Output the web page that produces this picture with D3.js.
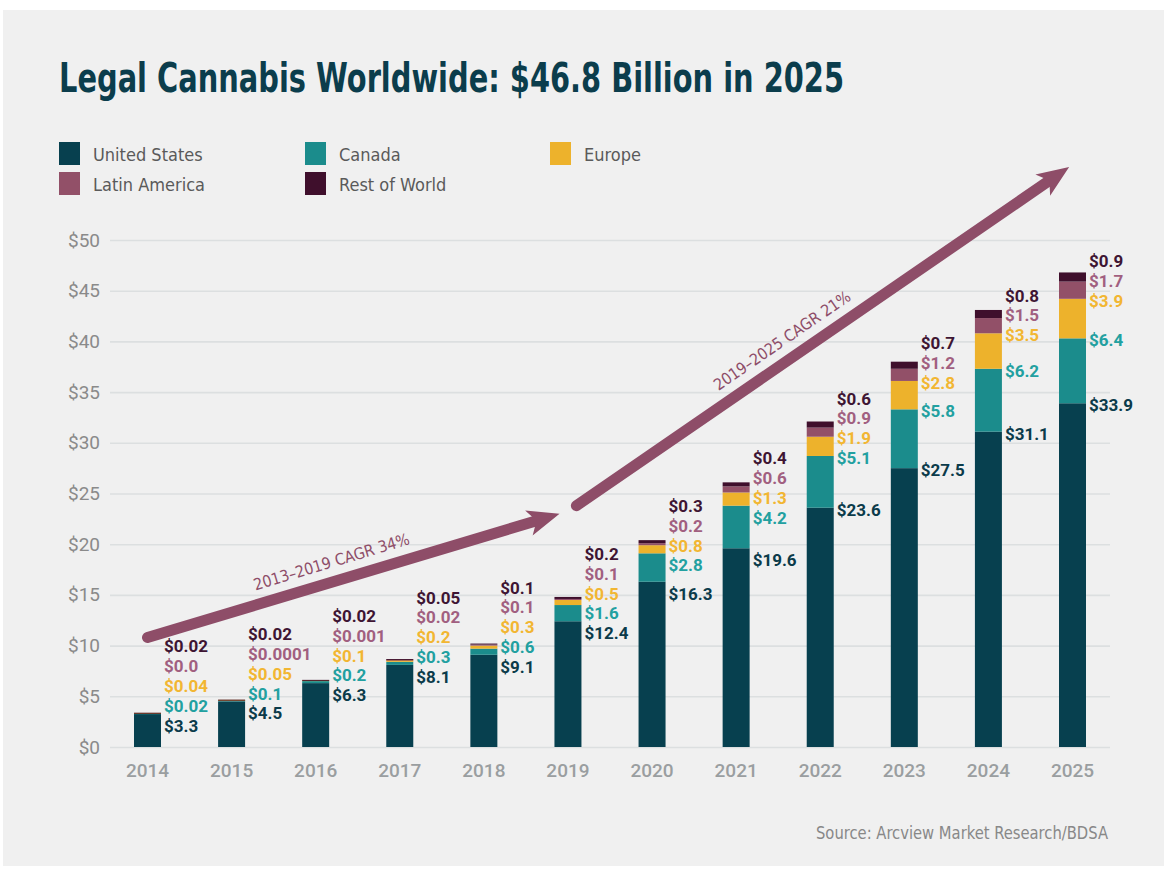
<!DOCTYPE html>
<html>
<head>
    <meta charset="utf-8">
    <title>Legal Cannabis Worldwide</title>
    <script src="https://cdn.jsdelivr.net/npm/d3@7"></script>
    <style>
        body { margin: 0; background: #fff; }
        svg { display: block; }
    </style>
</head>
<body>
    <svg width="1164" height="869" id="mainsvg"></svg>
    <script>
        // data
        const years = ['2014', '2015', '2016', '2017', '2018', '2019', '2020', '2021', '2022', '2023', '2024', '2025'];
        const unitedStates = [3.3, 4.5, 6.3, 8.1, 9.1, 12.4, 16.3, 19.6, 23.6, 27.5, 31.1, 33.9];
        const canada = [0.02, 0.1, 0.2, 0.3, 0.6, 1.6, 2.8, 4.2, 5.1, 5.8, 6.2, 6.4];
        const europe = [0.04, 0.05, 0.1, 0.2, 0.3, 0.5, 0.8, 1.3, 1.9, 2.8, 3.5, 3.9];
        const latinAmerica = [0.0, 0.0001, 0.001, 0.02, 0.1, 0.1, 0.2, 0.6, 0.9, 1.2, 1.5, 1.7];
        const restOfWorld = [0.02, 0.02, 0.02, 0.05, 0.1, 0.2, 0.3, 0.4, 0.6, 0.7, 0.8, 0.9];
        const yTicks = [0, 5, 10, 15, 20, 25, 30, 35, 40, 45, 50];
        const seriesNames = ['United States', 'Canada', 'Europe', 'Latin America', 'Rest of World'];
        // CAGR arrows, in (year index, value) units
        const arrows = [
            { from: [0, 10.8], to: [4.9, 23.0], text: '2013–2019 CAGR 34%', at: 0.46 },
            { from: [5.1, 23.8], to: [10.96, 57.2], text: '2019–2025 CAGR 21%', at: 0.44 }
        ];

        const barColors = ['#07404f', '#1b8c8c', '#edb22c', '#925068', '#3f0f2c'];
        const labelColors = ['#0b3b4a', '#22a0a0', '#f2b632', '#a15f80', '#3e1533'];
        const condensed = "'Liberation Sans Narrow', 'DejaVu Sans Condensed', Roboto, sans-serif";

        const svg = d3.select('#mainsvg');

        svg.append('rect')
            .attr('x', 3).attr('y', 10)
            .attr('width', 1161).attr('height', 856)
            .attr('fill', '#f0f0f0');

        // title
        svg.append('text')
            .attr('x', 59).attr('y', 92)
            .attr('fill', '#0b3d4c')
            .attr('font-family', condensed)
            .attr('font-weight', 600)
            .attr('font-size', 40)
            .attr('textLength', 785)
            .attr('lengthAdjust', 'spacingAndGlyphs')
            .text('Legal Cannabis Worldwide: $46.8 Billion in 2025');

        // legend
        const legendPos = [[59, 142], [305, 142], [550, 142], [59, 172], [305, 172]];
        const legend = svg.append('g').attr('id', 'legend');
        seriesNames.forEach((name, i) => {
            const g = legend.append('g').attr('transform', `translate(${legendPos[i][0]}, ${legendPos[i][1]})`);
            g.append('rect').attr('width', 21).attr('height', 23).attr('fill', barColors[i]);
            g.append('text')
                .attr('x', 34).attr('y', 12)
                .attr('dominant-baseline', 'central')
                .attr('fill', '#5a5a5a')
                .attr('font-family', condensed)
                .attr('font-size', 18)
                .text(name);
        });

        // scales
        const xScale = d3.scaleBand()
            .domain(years)
            .range([134, 1086])
            .paddingInner(0.679)
            .paddingOuter(0);
        const yScale = d3.scaleLinear()
            .domain([0, 50])
            .range([747, 240]);
        const xIndex = d3.scaleLinear()
            .domain([0, years.length - 1])
            .range([xScale(years[0]) + xScale.bandwidth() / 2, xScale(years[years.length - 1]) + xScale.bandwidth() / 2]);

        // grid + y axis
        const yAxis = d3.axisLeft(yScale)
            .tickValues(yTicks)
            .tickSize(-1000)
            .tickPadding(10)
            .tickFormat(d => `$${d}`);
        const yAxisGroup = svg.append('g')
            .attr('transform', 'translate(110, 0)')
            .call(yAxis);
        yAxisGroup.select('.domain').remove();
        yAxisGroup.selectAll('.tick line')
            .attr('stroke', '#dcdfe0')
            .attr('stroke-width', 1.6);
        yAxisGroup.selectAll('.tick text')
            .attr('fill', '#8a8a8a')
            .attr('font-family', 'Roboto, sans-serif')
            .attr('font-size', 19);

        // x axis
        const xAxis = d3.axisBottom(xScale).tickSize(0).tickPadding(14);
        const xAxisGroup = svg.append('g')
            .attr('transform', 'translate(0, 750)')
            .call(xAxis);
        xAxisGroup.select('.domain').remove();
        xAxisGroup.selectAll('.tick text')
            .attr('fill', '#9a9ea0')
            .attr('font-family', 'Roboto, sans-serif')
            .attr('font-weight', 500)
            .attr('font-size', 19);

        // stacked bars
        const rows = years.map((y, i) => ({
            year: y,
            s0: unitedStates[i], s1: canada[i], s2: europe[i], s3: latinAmerica[i], s4: restOfWorld[i]
        }));
        const keys = ['s0', 's1', 's2', 's3', 's4'];
        const stacked = d3.stack().keys(keys)(rows);

        const barGroup = svg.append('g').attr('id', 'bars');
        barGroup.selectAll('g').data(stacked)
            .join('g')
            .attr('fill', (d, i) => barColors[i])
            .selectAll('rect').data(d => d)
            .join('rect')
            .attr('x', d => xScale(d.data.year))
            .attr('width', xScale.bandwidth())
            .attr('y', d => yScale(d[1]))
            .attr('height', d => Math.max(yScale(d[0]) - yScale(d[1]), d[1] - d[0] > 0.01 ? 1 : 0));

        // value labels, pushed upward so they do not overlap
        const fmt = v => v === 0 ? '$0.0' : `$${v}`;
        const labelGroup = svg.append('g').attr('id', 'labels');
        rows.forEach((row, i) => {
            const total = d3.sum(keys, k => row[k]);
            const offset = total < 30 ? 12 : 2;
            let prev = Infinity;
            keys.forEach((k, j) => {
                let yy = yScale(stacked[j][i][1]) + offset;
                if (yy > prev - 19.8) yy = prev - 19.8;
                prev = yy;
                labelGroup.append('text')
                    .attr('x', xScale(row.year) + xScale.bandwidth() + 3)
                    .attr('y', yy)
                    .attr('dominant-baseline', 'central')
                    .attr('fill', labelColors[j])
                    .attr('font-family', 'Roboto, sans-serif')
                    .attr('font-weight', 'bold')
                    .attr('font-size', 17)
                    .text(fmt(row[k]));
            });
        });

        // CAGR arrows
        const arrowColor = '#8e4d68';
        const arrowGroup = svg.append('g').attr('id', 'arrows');
        arrows.forEach(a => {
            const x0 = xIndex(a.from[0]), y0 = yScale(a.from[1]);
            const x1 = xIndex(a.to[0]), y1 = yScale(a.to[1]);
            const len = Math.hypot(x1 - x0, y1 - y0);
            const ux = (x1 - x0) / len, uy = (y1 - y0) / len;
            const nx = uy, ny = -ux;   // normal, pointing up-left
            const headLen = 30, headW = 13;
            const bx = x1 - ux * headLen, by = y1 - uy * headLen;
            arrowGroup.append('line')
                .attr('x1', x0).attr('y1', y0)
                .attr('x2', bx + ux * 6).attr('y2', by + uy * 6)
                .attr('stroke', arrowColor)
                .attr('stroke-width', 11)
                .attr('stroke-linecap', 'round');
            const notch = 6;
            arrowGroup.append('path')
                .attr('d', `M${x1},${y1}` +
                    `L${bx - nx * headW - ux * 2},${by - ny * headW - uy * 2}` +
                    `L${bx + ux * notch},${by + uy * notch}` +
                    `L${bx + nx * headW - ux * 2},${by + ny * headW - uy * 2}Z`)
                .attr('fill', arrowColor);
            const angle = Math.atan2(y1 - y0, x1 - x0) * 180 / Math.PI;
            const tx = x0 + (x1 - x0) * a.at + nx * 14;
            const ty = y0 + (y1 - y0) * a.at + ny * 14;
            arrowGroup.append('text')
                .attr('transform', `translate(${tx}, ${ty}) rotate(${angle})`)
                .attr('text-anchor', 'middle')
                .attr('fill', arrowColor)
                .attr('font-family', condensed)
                .attr('font-size', 16)
                .attr('textLength', 162)
                .attr('lengthAdjust', 'spacingAndGlyphs')
                .text(a.text);
        });

        // source
        svg.append('text')
            .attr('x', 1108).attr('y', 839)
            .attr('text-anchor', 'end')
            .attr('fill', '#888')
            .attr('font-family', condensed)
            .attr('font-size', 17)
            .attr('textLength', 292)
            .attr('lengthAdjust', 'spacingAndGlyphs')
            .text('Source: Arcview Market Research/BDSA');
    </script>
</body>
</html>
